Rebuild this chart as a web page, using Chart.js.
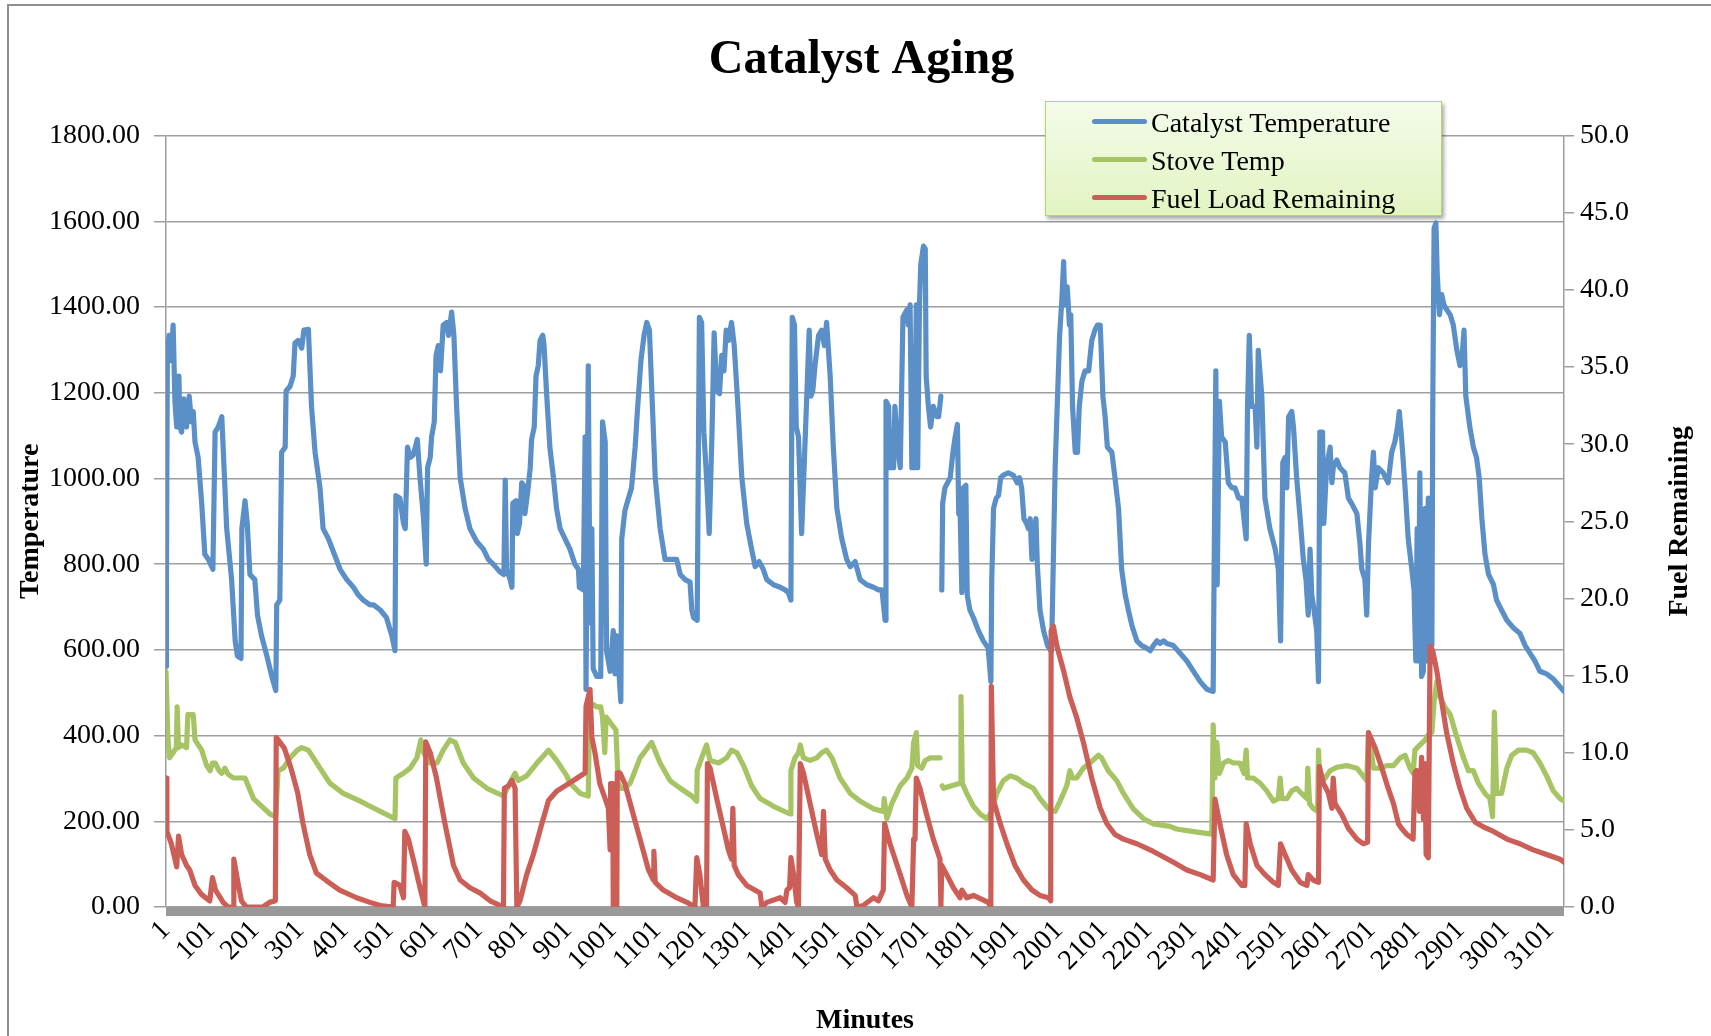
<!DOCTYPE html>
<html><head><meta charset="utf-8">
<script src="https://cdn.jsdelivr.net/npm/chart.js@4.4.1/dist/chart.umd.min.js"></script>
<style>
html,body{margin:0;padding:0;background:#fff;overflow:hidden}
#wrap{position:relative;width:1711px;height:1036px;overflow:hidden}
#frame{position:absolute;left:7px;top:4px;width:1740px;height:1080px;border-top:2px solid #8e8e8e;border-left:2px solid #8e8e8e}
#c{position:absolute;left:0;top:0}
#legend{position:absolute;left:1045px;top:101px;width:397px;height:115px;box-sizing:border-box;border:1.5px solid #b5d46f;background:linear-gradient(#f4fbea,#e2f4c2);box-shadow:2px 3px 4px rgba(0,0,0,0.35);font-family:"Liberation Serif",serif;font-size:28px;color:#000}
.li{position:absolute;left:0;width:100%;height:38px}
.ls{position:absolute;left:46px;width:55px;height:5px;border-radius:3px;top:17px}
.lt{position:absolute;left:105px;top:2px;line-height:38px;white-space:nowrap}
</style></head>
<body><div id="wrap"><div id="frame"></div><canvas id="c" width="1711" height="1036"></canvas><div id="legend"></div></div>
<script>
const chartTitle = 'Catalyst Aging';
const xAxisTitle = 'Minutes';
const yAxisTitle = 'Temperature';
const fuelAxisTitle = 'Fuel Remaining';
const seriesNames = ['Catalyst Temperature','Stove Temp','Fuel Load Remaining'];
const xTicks = [1,101,201,301,401,501,601,701,801,901,1001,1101,1201,1301,1401,1501,1601,1701,1801,1901,2001,2101,2201,2301,2401,2501,2601,2701,2801,2901,3001,3101];
const tempTicks = [0,200,400,600,800,1000,1200,1400,1600,1800];
const fuelTicks = [0,5,10,15,20,25,30,35,40,45,50];

// [minute, value]
const catalystTemp = [[1,562],[2,764],[4,1287],[8,1334],[12,1275],[17,1358],[21,1180],[25,1120],[30,1239],[32,1120],[36,1108],[41,1186],[47,1120],[53,1192],[58,1132],[62,1156],[66,1085],[73,1049],[81,942],[88,823],[96,811],[106,788],[111,1108],[118,1120],[126,1144],[129,1073],[137,883],[148,764],[156,621],[161,586],[169,580],[171,883],[178,948],[183,895],[189,776],[200,764],[206,681],[215,633],[227,586],[238,538],[247,505],[249,705],[256,716],[260,1061],[268,1073],[270,1204],[279,1215],[286,1239],[290,1316],[297,1322],[305,1304],[310,1346],[320,1348],[327,1168],[335,1061],[346,978],[353,883],[365,859],[376,829],[391,788],[406,764],[421,746],[432,728],[443,716],[458,705],
[466,705],[481,693],[495,675],[507,633],[514,598],[516,960],[525,954],[533,895],[537,883],[542,1073],[548,1049],[555,1055],[564,1091],[570,1002],[578,906],[584,800],[587,1025],[593,1049],[596,1097],[602,1132],[606,1287],[611,1310],[616,1251],[622,1358],[630,1364],[634,1334],[641,1388],[646,1334],[652,1168],[660,1002],[671,930],[682,883],[697,853],[712,835],[723,811],[734,800],[749,782],[758,776],[761,996],[764,788],[772,764],[776,746],[778,942],[785,948],[788,871],[793,895],[798,990],[802,984],[805,918],[811,966],[817,1025],[820,1091],[826,1120],[830,1239],[835,1263],[839,1322],[845,1334],[848,1310],[854,1192],[861,1073],[869,1002],[876,930],[884,883],
[895,859],[906,835],[917,800],[925,788],[927,746],[936,740],[940,1097],[942,508],[947,1263],[951,663],[955,883],[958,556],[966,538],[975,538],[979,1132],[985,1085],[988,598],[996,550],[1003,645],[1007,544],[1011,633],[1014,574],[1020,479],[1022,859],[1029,924],[1037,954],[1044,978],[1052,1073],[1057,1156],[1065,1275],[1072,1334],[1078,1364],[1084,1346],[1089,1215],[1097,1002],[1108,883],[1119,811],[1130,811],[1145,811],[1153,776],[1164,764],[1175,758],[1179,693],[1183,675],[1191,669],[1196,1376],[1201,1364],[1206,1108],[1212,1002],[1218,871],[1224,1097],[1229,1340],[1235,1204],[1241,1198],[1246,1287],[1251,1251],[1256,1346],[1261,1322],[1268,1364],[1274,1310],[1283,1156],[1291,1002],[1302,895],[1313,835],[1321,794],[1330,806],[1339,788],[1347,764],
[1362,752],[1377,746],[1388,740],[1395,734],[1401,716],[1404,1376],[1409,1358],[1413,1120],[1418,1097],[1425,871],[1431,1037],[1437,1204],[1442,1346],[1446,1192],[1450,1204],[1455,1263],[1459,1299],[1463,1334],[1470,1346],[1476,1310],[1481,1364],[1489,1239],[1496,1073],[1504,930],[1515,859],[1526,811],[1534,794],[1545,806],[1556,764],[1571,752],[1586,746],[1597,740],[1605,740],[1612,669],[1614,1180],[1620,1168],[1623,1025],[1631,1025],[1634,1168],[1640,1073],[1646,1025],[1652,1376],[1661,1394],[1664,1358],[1668,1405],[1672,1025],[1677,1025],[1682,1405],[1685,1025],[1689,1405],[1692,1500],[1698,1542],[1702,1536],[1704,1239],[1709,1168],[1714,1120],[1720,1168],[1728,1144],[1732,1144],[1737,1192],[1738,null],[1739,740],[1741,942],[1746,978],[1752,990],[1758,1002],[1764,1061],[1769,1097],[1774,1126],[1777,918],[1780,930],[1784,734],[1787,978],[1793,984],[1796,728],[1802,693],
[1810,675],[1821,645],[1832,621],[1843,604],[1849,526],[1851,764],[1855,930],[1861,954],[1866,960],[1871,1002],[1877,1008],[1888,1013],[1899,1008],[1908,990],[1913,1002],[1918,978],[1923,906],[1929,895],[1933,883],[1937,906],[1941,811],[1946,883],[1950,906],[1953,800],[1959,693],[1967,645],[1976,610],[1983,598],[1985,598],[1993,1025],[1998,1180],[2003,1334],[2008,1417],[2012,1506],[2015,1405],[2020,1447],[2025,1358],[2028,1382],[2032,1168],[2038,1061],[2043,1061],[2047,1168],[2053,1227],[2060,1251],[2068,1251],[2075,1322],[2082,1346],[2088,1358],[2094,1358],[2100,1192],[2105,1144],[2110,1073],[2120,1061],[2127,1002],[2135,930],[2142,788],[2150,728],[2157,693],[2165,657],[2176,621],[2187,610],[2198,604],[2206,598],[2213,610],[2221,621],[2228,615],[2236,621],[2243,615],
[2258,610],[2273,592],[2288,574],[2303,550],[2318,526],[2333,508],[2347,503],[2350,895],[2353,1251],[2356,752],[2361,1180],[2366,1097],[2374,1085],[2381,990],[2389,978],[2396,978],[2404,954],[2411,954],[2421,859],[2424,1168],[2428,1334],[2433,1168],[2441,1168],[2445,1073],[2448,1299],[2456,1192],[2463,954],[2474,883],[2486,835],[2493,788],[2498,621],[2503,1037],[2508,1049],[2512,978],[2516,1144],[2523,1156],[2527,1120],[2534,1002],[2542,906],[2549,811],[2555,764],[2560,681],[2564,835],[2568,728],[2573,693],[2579,645],[2583,526],[2586,1108],[2592,1108],[2595,895],[2601,1025],[2609,1073],[2613,990],[2616,1025],[2624,1043],[2631,1025],[2642,1013],[2650,954],[2657,942],[2669,918],[2676,847],[2680,788],[2687,764],[2691,681],
[2695,847],[2702,1002],[2706,1061],[2710,978],[2717,1025],[2728,1013],[2739,990],[2747,1061],[2754,1085],[2760,1120],[2764,1156],[2769,1097],[2777,978],[2784,859],[2792,788],[2797,740],[2801,574],[2804,883],[2807,574],[2810,1013],[2814,538],[2818,550],[2822,930],[2825,574],[2829,954],[2833,598],[2837,610],[2839,1168],[2842,1584],[2846,1596],[2849,1477],[2854,1382],[2859,1429],[2864,1405],[2870,1394],[2878,1382],[2885,1358],[2893,1299],[2900,1263],[2904,1275],[2909,1346],[2913,1192],[2922,1120],[2930,1073],[2937,1049],[2943,1002],[2949,906],[2956,823],[2964,776],[2975,752],[2982,716],[2993,693],[3005,669],[3020,651],[3034,639],[3046,610],[3057,592],[3068,574],[3079,550],[3094,544],[3109,532],[3124,514],[3133,503]];

const stoveTemp = [[1,550],[5,400],[9,348],[17,360],[24,372],[26,467],[29,372],[36,378],[47,372],[50,449],[62,449],[66,390],[81,366],[92,330],[100,318],[105,336],[111,336],[120,318],[126,312],[133,324],[140,310],[152,301],[178,301],[197,253],[234,217],[247,211],[252,318],[264,324],[279,348],[295,366],[305,372],[320,366],[333,345],[346,324],[368,289],[398,265],[436,247],[458,235],[481,223],[514,206],[516,301],[533,312],[548,324],[563,348],[572,390],[578,360],[593,336],[608,336],[622,366],[637,390],[649,384],[667,336],[690,301],[720,277],[757,259],[783,312],[790,295],[809,306],[832,336],[858,366],[876,342],[899,306],[906,289],[929,265],[947,259],[950,467],[958,473],[966,467],[975,467],[979,443],[984,360],[987,443],[996,431],[1009,413],[1014,289],[1020,277],[1029,277],[1041,289],[1063,348],[1089,384],[1108,336],[1130,295],[1153,277],[1179,259],[1190,247],[1191,318],[1201,348],[1212,378],[1220,342],[1239,336],[1257,348],[1268,366],[1280,360],[1295,330],[1313,283],[1332,253],[1362,235],[1399,217],[1401,318],[1410,348],[1418,360],[1422,378],[1429,348],[1444,342],[1459,348],[1470,360],[1481,366],[1493,348],[1511,301],[1534,265],[1556,247],[1586,229],[1608,223],[1610,253],[1616,206],[1627,241],[1646,283],[1661,301],[1672,324],[1676,384],[1682,407],[1685,330],[1694,324],[1702,342],[1713,348],[1735,348],[1738,null],[1740,283],[1743,277],[1761,283],[1780,289],[1782,491],[1785,289],[1795,265],[1810,235],[1825,217],[1840,206],[1851,223],[1862,265],[1877,295],[1892,306],[1907,301],[1922,289],[1944,277],[1959,253],[1978,229],[1993,223],[2004,247],[2019,283],[2026,318],[2032,301],[2041,301],[2056,324],[2071,336],[2090,354],[2097,348],[2112,318],[2131,295],[2146,265],[2168,229],[2191,206],[2213,194],[2250,188],[2265,182],[2303,176],[2344,170],[2347,425],[2351,301],[2355,384],[2361,312],[2370,336],[2381,342],[2392,336],[2407,336],[2416,312],[2421,366],[2424,301],[2437,301],[2452,289],[2467,271],[2482,247],[2493,253],[2497,301],[2501,253],[2512,253],[2523,271],[2534,277],[2545,265],[2557,253],[2559,324],[2563,241],[2572,229],[2581,223],[2583,366],[2586,289],[2598,301],[2609,318],[2624,326],[2646,330],[2669,324],[2683,306],[2691,295],[2695,407],[2698,396],[2706,324],[2721,324],[2736,330],[2751,330],[2766,348],[2777,354],[2788,324],[2795,312],[2799,366],[2810,378],[2822,390],[2829,402],[2837,407],[2842,479],[2848,526],[2855,491],[2866,467],[2878,449],[2893,396],[2908,348],[2919,318],[2930,318],[2941,289],[2956,265],[2967,253],[2973,211],[2977,455],[2982,265],[2993,265],[3005,324],[3016,354],[3031,366],[3049,366],[3064,360],[3079,336],[3094,306],[3109,271],[3124,253],[3133,247]];

const fuelRemaining = [[1,8.35],[3,4.9],[13,4.1],[25,2.6],[29,4.6],[36,3.4],[47,2.7],[54,2.4],[66,1.4],[81,0.8],[99,0.4],[105,1.9],[112,1.1],[129,0.3],[140,0],[152,0],[153,3.1],[162,1.6],[170,0.4],[181,0],[218,0],[233,0.3],[246,0.4],[248,11.0],[266,10.3],[281,9.0],[296,7.4],[308,5.4],[323,3.4],[338,2.2],[361,1.7],[390,1.1],[428,0.6],[458,0.3],[481,0.1],[510,0],[512,1.6],[525,1.4],[533,0.6],[536,4.9],[544,4.4],[555,3.1],[570,1.25],[581,0],[583,10.7],[593,10.0],[607,8.35],[626,5.4],[645,2.7],[660,1.75],[682,1.25],[705,0.9],[727,0.4],[757,0],[759,7.7],[768,7.85],[776,8.2],[783,7.7],[787,0],[794,0.4],[809,2.1],[824,3.4],[843,5.4],[858,6.9],[876,7.5],[895,7.85],[914,8.2],[940,8.7],[942,13.0],[951,14.1],[955,11.0],[962,10.0],[973,8.0],[985,7.0],[992,6.4],[996,3.7],[997,8.0],[1002,8.0],[1003,0],[1011,0],[1012,8.7],[1018,8.7],[1029,8.0],[1044,6.4],[1063,4.4],[1082,2.4],[1093,1.75],[1094,3.6],[1097,1.6],[1115,1.1],[1145,0.6],[1168,0.3],[1186,0],[1190,3.2],[1197,2.1],[1205,0],[1212,0],[1214,9.3],[1220,9.0],[1235,7.0],[1250,5.1],[1261,3.7],[1268,3.1],[1271,6.4],[1274,2.7],[1283,2.1],[1302,1.4],[1332,0.9],[1336,0],[1347,0.3],[1377,0.6],[1388,0.3],[1392,1.1],[1398,1.25],[1401,3.2],[1407,2.1],[1414,0.3],[1418,0],[1422,9.3],[1429,8.7],[1444,6.7],[1459,4.7],[1470,3.4],[1474,6.2],[1478,3.1],[1489,2.4],[1504,1.75],[1526,1.25],[1545,0.75],[1549,0],[1563,0.1],[1586,0.6],[1597,0.4],[1608,1.1],[1611,5.4],[1623,4.1],[1646,2.1],[1661,0.75],[1672,0],[1676,4.4],[1679,4.4],[1682,8.35],[1690,7.7],[1705,6.0],[1720,4.4],[1735,3.1],[1737,0],[1739,2.7],[1750,2.1],[1765,1.25],[1780,0.6],[1784,1.1],[1795,0.6],[1810,0.75],[1843,0.3],[1849,0],[1850,14.3],[1855,6.9],[1870,5.4],[1885,4.1],[1903,2.7],[1922,1.75],[1941,1.1],[1959,0.75],[1978,0.6],[1983,0.4],[1984,17.9],[1989,18.2],[1997,16.9],[2012,15.3],[2026,13.6],[2041,12.3],[2056,10.7],[2075,8.35],[2094,6.4],[2109,5.4],[2127,4.7],[2146,4.4],[2176,4.1],[2213,3.6],[2258,2.9],[2288,2.4],[2318,2.1],[2347,1.75],[2351,7.0],[2362,5.4],[2377,3.4],[2392,2.1],[2411,1.4],[2418,1.4],[2421,5.4],[2430,4.1],[2445,2.7],[2463,2.1],[2482,1.6],[2493,1.4],[2498,4.1],[2508,3.4],[2523,2.4],[2542,1.6],[2557,1.4],[2560,2.1],[2571,1.75],[2583,1.6],[2585,9.1],[2594,8.0],[2605,7.4],[2613,6.4],[2616,8.35],[2620,6.7],[2635,6.0],[2650,5.1],[2669,4.4],[2683,4.1],[2693,4.2],[2695,11.3],[2710,10.3],[2725,9.0],[2739,7.7],[2751,6.7],[2762,5.4],[2769,5.1],[2781,4.7],[2795,4.4],[2799,8.7],[2803,8.85],[2809,6.2],[2814,9.7],[2818,5.7],[2822,9.3],[2824,3.4],[2829,3.2],[2833,16.9],[2839,16.6],[2848,15.3],[2859,13.3],[2870,11.3],[2885,9.3],[2900,7.7],[2915,6.4],[2934,5.5],[2952,5.2],[2975,4.9],[3005,4.4],[3034,4.1],[3064,3.7],[3094,3.4],[3124,3.1],[3133,2.9]];

const seriesColors = ['#5a8fc8','#a6c463','#cc5e58'];
const xMin = 1, xMax = 3133;

function toPoints(arr){ return arr.map(p => ({x: p[0], y: p[1]})); }

Chart.defaults.font.family = '"Liberation Serif", serif';
Chart.defaults.color = '#000';

const bottomBar = {
  id: 'bottomBar',
  afterDatasetsDraw(chart){
    const {ctx, chartArea: a} = chart;
    ctx.save();
    ctx.fillStyle = '#999999';
    ctx.fillRect(a.left, a.bottom, a.right - a.left, 9);
    ctx.restore();
  }
};
const rightTitle = {
  id: 'rightTitle',
  afterDraw(chart){
    const s = chart.scales.y1, ctx = chart.ctx;
    ctx.save();
    ctx.translate(1680, (s.top + s.bottom) / 2);
    ctx.rotate(-Math.PI / 2);
    ctx.font = 'bold 28px "Liberation Serif"';
    ctx.fillStyle = '#000';
    ctx.textAlign = 'center';
    ctx.textBaseline = 'middle';
    ctx.fillText(fuelAxisTitle, 0, 0);
    ctx.restore();
  }
};

const lineStyle = {borderWidth: 5.2, pointRadius: 0, pointHoverRadius: 0, tension: 0, spanGaps: false, borderJoinStyle: 'round', borderCapStyle: 'round', fill: false};

const chart = new Chart(document.getElementById('c'), {
  type: 'line',
  data: {
    datasets: [
      Object.assign({label: seriesNames[0], data: toPoints(catalystTemp), borderColor: seriesColors[0], backgroundColor: seriesColors[0], yAxisID: 'y', order: 3}, lineStyle),
      Object.assign({label: seriesNames[1], data: toPoints(stoveTemp), borderColor: seriesColors[1], backgroundColor: seriesColors[1], yAxisID: 'y', order: 2}, lineStyle),
      Object.assign({label: seriesNames[2], data: toPoints(fuelRemaining), borderColor: seriesColors[2], backgroundColor: seriesColors[2], yAxisID: 'y1', order: 1}, lineStyle)
    ]
  },
  plugins: [bottomBar, rightTitle],
  options: {
    responsive: false,
    animation: false,
    devicePixelRatio: 1,
    layout: {padding: {left: 12, right: 0, top: 0, bottom: 0}},
    plugins: {
      legend: {display: false},
      tooltip: {enabled: false},
      title: {display: true, text: chartTitle, color: '#000', font: {family: '"Liberation Serif", serif', size: 48, weight: 'bold'}, padding: {top: 32, bottom: 46}}
    },
    scales: {
      x: {
        type: 'linear', min: xMin, max: xMax,
        afterBuildTicks: s => { s.ticks = xTicks.map(v => ({value: v})); },
        afterFit: s => { s.height = 129; },
        grid: {display: false, drawTicks: false},
        border: {display: false},
        ticks: {autoSkip: false, maxRotation: 45, minRotation: 45, padding: 7, color: '#000', font: {size: 28}, callback: v => String(v)},
        title: {display: true, text: xAxisTitle, color: '#000', font: {size: 28, weight: 'bold'}, padding: {top: 0, bottom: -2}}
      },
      y: {
        position: 'left', min: 0, max: 1800,
        afterBuildTicks: s => { s.ticks = tempTicks.map(v => ({value: v})); },
        afterFit: s => { s.width = 154; },
        grid: {color: '#9e9e9e', lineWidth: 1.5, tickLength: 12, drawTicks: true},
        border: {color: '#9e9e9e', width: 1.5},
        ticks: {padding: 14, color: '#000', font: {size: 28}, callback: v => Number(v).toFixed(2)},
        title: {display: true, text: yAxisTitle, color: '#000', font: {size: 28, weight: 'bold'}, padding: {top: 2, bottom: 0}}
      },
      y1: {
        position: 'right', min: 0, max: 50,
        afterBuildTicks: s => { s.ticks = fuelTicks.map(v => ({value: v})); },
        afterFit: s => { s.width = 147; },
        grid: {drawOnChartArea: false, color: '#9e9e9e', lineWidth: 1.5, tickLength: 10},
        border: {color: '#9e9e9e', width: 1.5},
        ticks: {padding: 6, color: '#000', font: {size: 28}, callback: v => Number(v).toFixed(1)}
      }
    }
  }
});

// HTML legend built from the chart's datasets
const leg = document.getElementById('legend');
const rowTops = [0, 38, 76];
chart.data.datasets.forEach((ds, i) => {
  const row = document.createElement('div');
  row.className = 'li';
  row.style.top = (rowTops[i]) + 'px';
  const sw = document.createElement('div');
  sw.className = 'ls';
  sw.style.background = ds.borderColor;
  const tx = document.createElement('div');
  tx.className = 'lt';
  tx.textContent = ds.label;
  row.appendChild(sw); row.appendChild(tx);
  leg.appendChild(row);
});
</script></body></html>
